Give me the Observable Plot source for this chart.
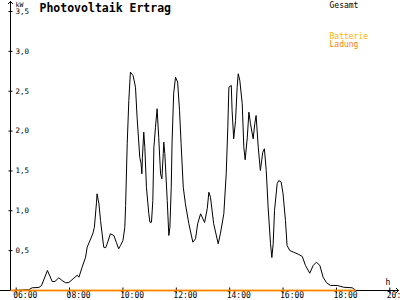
<!DOCTYPE html>
<html>
<head>
<meta charset="utf-8">
<script src="https://cdn.jsdelivr.net/npm/d3@7"></script>
<script src="https://cdn.jsdelivr.net/npm/@observablehq/plot@0.6"></script>
<style>
  html, body { margin: 0; padding: 0; background: #fff; }
  svg { display: block; }
</style>
</head>
<body>
<div id="chart"></div>
<script>
// ---- data (hours of day, kW) ----
const times = [5.80, 6.47, 6.60, 6.85, 6.95, 7.17, 7.35, 7.45, 7.60, 7.72, 7.85, 7.97,
  8.16, 8.29, 8.35, 8.47, 8.60, 8.66, 8.87, 8.93, 9.01, 9.03, 9.10, 9.16, 9.22, 9.28,
  9.35, 9.41, 9.53, 9.66, 9.75, 9.84, 9.91, 10.00, 10.07, 10.10, 10.16, 10.22, 10.28,
  10.38, 10.47, 10.53, 10.63, 10.68, 10.71, 10.73, 10.78, 10.82, 10.88, 10.97, 11.01,
  11.07, 11.12, 11.16, 11.22, 11.28, 11.34, 11.41, 11.46, 11.51, 11.53, 11.57, 11.66,
  11.72, 11.76, 11.81, 11.84, 11.90, 11.97, 12.05, 12.12, 12.18, 12.26, 12.34, 12.47,
  12.62, 12.72, 12.80, 12.91, 13.06, 13.16, 13.22, 13.28, 13.40, 13.57, 13.65, 13.78,
  13.87, 13.93, 13.97, 14.06, 14.09, 14.15, 14.22, 14.28, 14.32, 14.38, 14.47, 14.53,
  14.58, 14.66, 14.72, 14.78, 14.88, 14.94, 14.99, 15.07, 15.15, 15.24, 15.30, 15.37,
  15.44, 15.53, 15.58, 15.63, 15.68, 15.78, 15.84, 15.93, 16.00, 16.09, 16.15, 16.25,
  16.40, 16.59, 16.72, 16.84, 17.00, 17.13, 17.25, 17.38, 17.50, 17.63, 17.78, 18.03,
  18.27, 18.59, 18.71];
const gesamt = [0, 0.01, 0.034, 0.038, 0.063, 0.251, 0.113, 0.113, 0.159, 0.125, 0.097, 0.10,
  0.154, 0.192, 0.167, 0.292, 0.418, 0.543, 0.711, 0.794, 1.108, 1.213, 1.088, 0.878, 0.711, 0.543,
  0.536, 0.586, 0.711, 0.69, 0.606, 0.523, 0.565, 0.627, 0.794, 1.066, 1.84, 2.384, 2.739,
  2.697, 2.55, 2.174, 1.672, 1.59, 1.464, 1.672, 1.986, 1.798, 1.296, 0.962, 0.857,
  0.857, 1.129, 1.798, 2.049, 2.28, 1.923, 1.464, 1.401, 1.715, 1.861, 1.715, 1.129,
  0.69, 0.794, 1.296, 1.84, 2.468, 2.676, 2.613, 2.258, 1.84, 1.296, 1.088, 0.837,
  0.606, 0.649, 0.837, 0.962, 0.853, 1.029, 1.233, 1.17, 0.837, 0.586, 0.711, 0.962,
  1.464, 2.049, 2.55, 2.572, 2.258, 1.903, 2.133, 2.55, 2.719, 2.634, 2.342, 1.798,
  1.64, 1.923, 2.237, 2.091, 1.903, 2.091, 2.195, 1.798, 1.505, 1.735, 1.778, 1.505,
  1.045, 0.586, 0.414, 0.586, 1.004, 1.339, 1.38, 1.359, 1.213, 0.878, 0.565, 0.502,
  0.48, 0.452, 0.427, 0.314, 0.217, 0.314, 0.355, 0.314, 0.167, 0.097, 0.063, 0.063,
  0.041, 0.034, 0.006];
const batterieTimes = [5.82, 18.71];
const batterie = [0, 0];
const ladungTimes = [5.82, 18.71];
const ladung = [0, 0];

const xTicks = [6, 8, 10, 12, 14, 16, 18, 20];
const xTickLabels = ["06:00", "08:00", "10:00", "12:00", "14:00", "16:00", "18:00", "20:00"];
const yTicks = [0.5, 1, 1.5, 2, 2.5, 3, 3.5];
const yTickLabels = ["0,5", "1,0", "1,5", "2,0", "2,5", "3,0", "3,5"];

const title = "Photovoltaik Ertrag";
const legendLabels = ["Gesamt", "Batterie", "Ladung"];
const unitY = "kW";
const unitX = "h";

// axis extents (hours / kW) as they appear in the picture
const xAxisExtent = [5.41, 20.32];
const yAxisAt = 5.786;
const yAxisExtent = [0, 3.625];

const colGesamt = "#000000";
const colBatterie = "#ffb000";
const colLadung = "#ff8000";
const mono = "DejaVu Sans Mono";

const main = times.map((t, i) => ({t, v: gesamt[i]}));
const bat = batterieTimes.map((t, i) => ({t, v: batterie[i]}));
const lad = ladungTimes.map((t, i) => ({t, v: ladung[i]}));

const hTick = {draw(ctx) { ctx.moveTo(-2, 0); ctx.lineTo(2, 0); }};
const vTick = {draw(ctx) { ctx.moveTo(0, -3); ctx.lineTo(0, 3); }};

const chart = Plot.plot({
  width: 400,
  height: 300,
  marginTop: 0,
  marginRight: 0,
  marginBottom: 10,
  marginLeft: 10,
  style: {fontFamily: mono, background: "#fff", color: "#000"},
  x: {domain: [6, 20], range: [15.7, 389.3], axis: null},
  y: {domain: [0, 3.5], range: [290, 11], axis: null},
  marks: [
    // axes lines with arrows
    Plot.arrow([{x1: xAxisExtent[0], x2: xAxisExtent[1], y1: 0, y2: 0}],
      {x1: "x1", x2: "x2", y1: "y1", y2: "y2", stroke: "#000", strokeWidth: 1, headLength: 5, headAngle: 90, shapeRendering: "crispEdges"}),
    Plot.arrow([{x: yAxisAt, y1: yAxisExtent[0], y2: yAxisExtent[1]}],
      {x1: "x", x2: "x", y1: "y1", y2: "y2", stroke: "#000", strokeWidth: 1, headLength: 4, headAngle: 90, shapeRendering: "crispEdges"}),
    // ticks
    Plot.dot(yTicks, {y: d => d, frameAnchor: "left", symbol: hTick, stroke: "#000", fill: "none", strokeWidth: 1}),
    Plot.dot(xTicks, {x: d => d, frameAnchor: "bottom", symbol: vTick, stroke: "#000", fill: "none", strokeWidth: 1}),
    // tick labels
    Plot.text(yTicks, {y: d => d, frameAnchor: "left", text: (d, i) => yTickLabels[i], textAnchor: "start", dx: 5, fontSize: 7.5, fill: "#000"}),
    Plot.text(xTicks, {x: d => d, frameAnchor: "bottom", text: (d, i) => xTickLabels[i], textAnchor: "start", lineAnchor: "top", dx: -3, dy: 2, fontSize: 8, fill: "#000"}),
    // data
    Plot.line(main, {x: "t", y: "v", stroke: colGesamt, strokeWidth: 1}),
    Plot.line(bat, {x: "t", y: "v", stroke: colBatterie, strokeWidth: 1.5}),
    Plot.line(lad, {x: "t", y: "v", stroke: colLadung, strokeWidth: 1.5}),
    // texts
    Plot.text([title], {frameAnchor: "top-left", text: d => d, textAnchor: "start", lineAnchor: "top", dx: 29, dy: 3, fontSize: 11.5, fontWeight: "bold", fill: "#000"}),
    Plot.text([unitY], {frameAnchor: "top-left", text: d => d, textAnchor: "start", lineAnchor: "top", dx: 5, dy: 2, fontSize: 6.5, fill: "#000"}),
    Plot.text([unitX], {frameAnchor: "bottom-right", text: d => d, textAnchor: "start", lineAnchor: "bottom", dx: -15, dy: -6, fontSize: 8, fill: "#000"}),
    Plot.text([legendLabels[0]], {frameAnchor: "top-right", text: d => d, textAnchor: "start", lineAnchor: "top", dx: -71, dy: 2, fontSize: 8, fill: colGesamt}),
    Plot.text([legendLabels[1]], {frameAnchor: "top-right", text: d => d, textAnchor: "start", lineAnchor: "top", dx: -71, dy: 33, fontSize: 8, fill: colBatterie}),
    Plot.text([legendLabels[2]], {frameAnchor: "top-right", text: d => d, textAnchor: "start", lineAnchor: "top", dx: -71, dy: 41, fontSize: 8, fill: colLadung})
  ]
});
document.getElementById("chart").appendChild(chart);
</script>
</body>
</html>
